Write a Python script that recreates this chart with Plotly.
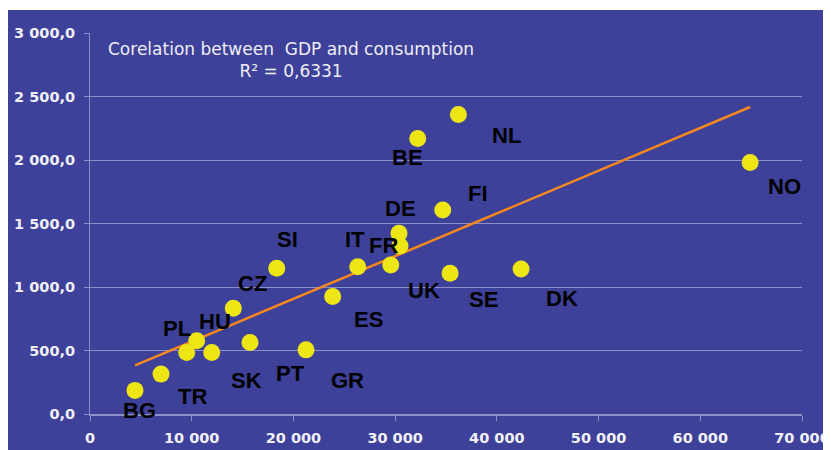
import numpy as np
import plotly.graph_objects as go

# GDP per capita vs consumption
countries = ["BG", "TR", "PL", "HU", "CZ", "SK", "PT", "GR", "SI", "ES",
             "IT", "FR", "DE", "UK", "BE", "FI", "SE", "NL", "DK", "NO"]
gdp = [4425, 6980, 9510, 10490, 14090, 11970, 15730, 21240, 18360, 23860,
       26320, 30480, 30380, 29570, 32220, 34680, 35400, 36220, 42380, 64900]
consumption = [186, 314, 484, 576, 833, 484, 563, 505, 1148, 925,
               1160, 1323, 1423, 1174, 2170, 1606, 1108, 2358, 1142, 1981]

# label placement relative to each point, in pixels (dx right, dy down)
label_offsets = {
    "BG": (4, 20), "TR": (31, 22), "PL": (-10, -24), "HU": (18, -19),
    "CZ": (19, -25), "SK": (35, 28), "PT": (40, 31), "GR": (41, 31),
    "SI": (11, -29), "ES": (36, 23), "IT": (-3, -27), "FR": (-17, 0),
    "DE": (1, -25), "UK": (33, 26), "BE": (-10, 19), "FI": (35, -17),
    "SE": (33, 26), "NL": (48, 21), "DK": (41, 30), "NO": (34, 24),
}

BG_BLUE = "#3d4199"
GRID = "#8d8fc9"

# linear trend (Excel style)
slope, intercept = np.polyfit(gdp, consumption, 1)
trend_x = [min(gdp), max(gdp)]
trend_y = [slope * v + intercept for v in trend_x]

fig = go.Figure()

fig.add_trace(
    go.Scatter(
        x=trend_x,
        y=trend_y,
        mode="lines",
        line=dict(color="#f7871f", width=2.5),
        showlegend=False,
        hoverinfo="skip",
    )
)

fig.add_trace(
    go.Scatter(
        x=gdp,
        y=consumption,
        mode="markers",
        marker=dict(color="#ede614", size=17),
        text=countries,
        showlegend=False,
    )
)

for c, xv, yv in zip(countries, gdp, consumption):
    dx, dy = label_offsets[c]
    fig.add_annotation(
        x=xv, y=yv, text=c, showarrow=False,
        xshift=dx, yshift=-dy,
        font=dict(family="Liberation Sans, Arial", size=22, color="black", weight="bold"),
    )

fig.add_annotation(
    xref="paper", yref="paper", x=0.282, y=0.929,
    text="Corelation between  GDP and consumption<br>R² = 0,6331",
    showarrow=False, align="center", xanchor="center", yanchor="middle",
    font=dict(family="DejaVu Sans, Verdana", size=17, color="#eeeef4"),
)

# blue panel behind everything, leaving the thin white strip top/left
fig.add_shape(
    type="rect", xref="paper", yref="paper", layer="below",
    x0=-0.2, x1=1.1, y0=-0.2, y1=1.0604,
    fillcolor=BG_BLUE, line=dict(width=0),
)

tickfont = dict(family="DejaVu Sans, Verdana", size=14.5, color="#f0f0f6", weight="bold")

# page body has an 8px margin, so the figure is a bit smaller than the window
fig.update_layout(
    width=823,
    height=442,
    margin=dict(l=82, r=29, t=25, b=36),
    paper_bgcolor="white",
    plot_bgcolor=BG_BLUE,
    separators=", ",
    xaxis=dict(
        range=[0, 70000], dtick=10000, tickformat=",d",
        showgrid=False, zeroline=False, automargin=False,
        showline=True, linecolor=GRID, linewidth=1.5,
        ticks="outside", ticklen=5, tickcolor=GRID,
        ticklabelstandoff=5,
        tickfont=tickfont, fixedrange=True,
    ),
    yaxis=dict(
        range=[0, 3000], dtick=500, tickformat=",.1f",
        showgrid=True, gridcolor=GRID, gridwidth=1.2, zeroline=False,
        automargin=False,
        showline=True, linecolor=GRID, linewidth=1,
        ticks="outside", ticklen=5, tickcolor=GRID,
        ticklabelstandoff=6,
        tickfont=tickfont, fixedrange=True,
    ),
)

fig.write_html("out.html")
